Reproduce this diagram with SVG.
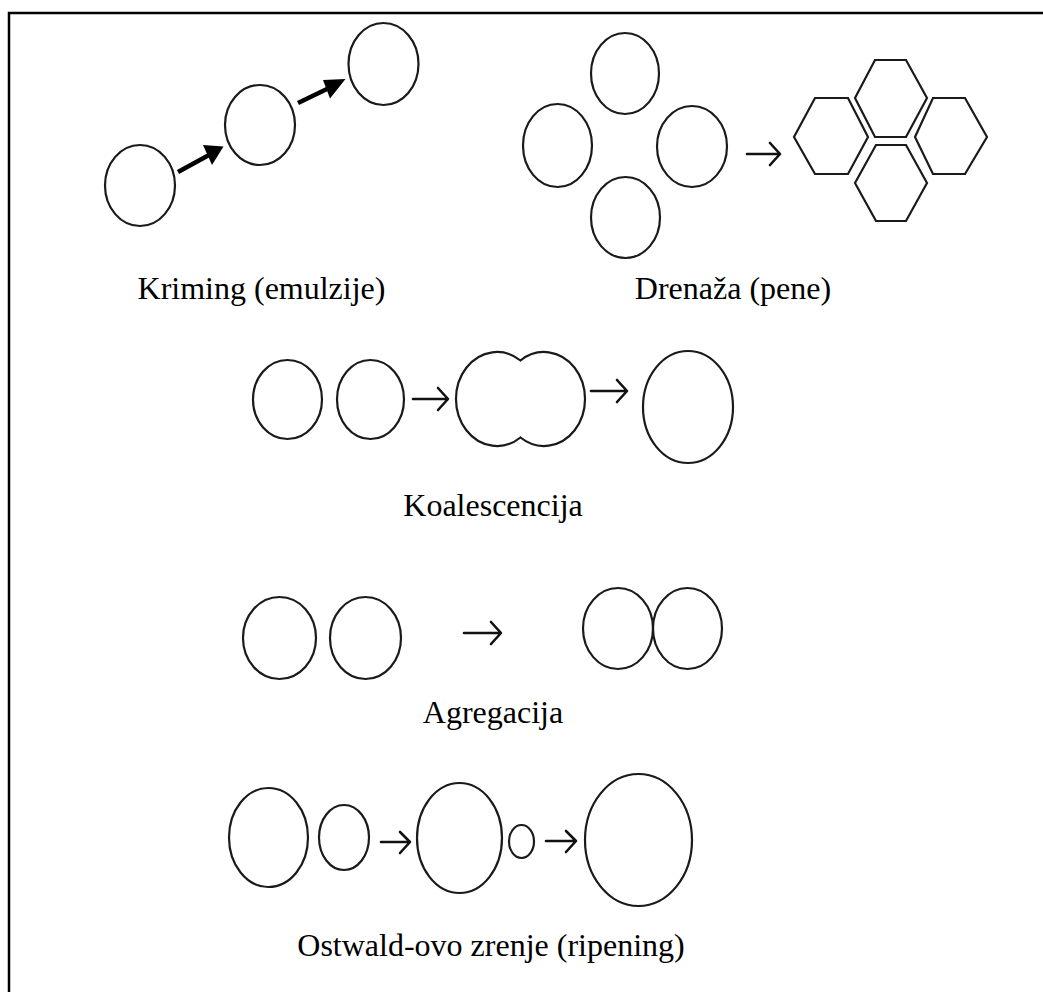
<svg xmlns="http://www.w3.org/2000/svg" width="1043" height="992" viewBox="0 0 1043 992">
<style>
.s{fill:none;stroke:#1a1a1a;stroke-width:2.2}
.a{fill:none;stroke:#111;stroke-width:2.6;stroke-linecap:round;stroke-linejoin:round}
.t{font-family:"Liberation Serif","Times New Roman",serif;font-size:32px;fill:#000;text-anchor:middle}
</style>
<rect width="1043" height="992" fill="#fff"/>
<path d="M9,992 V13 H1043" fill="none" stroke="#000" stroke-width="2.5"/>
<g id="kriming">
<ellipse class="s" cx="140" cy="185.5" rx="35" ry="40.5"/>
<ellipse class="s" cx="260" cy="125" rx="35" ry="40"/>
<ellipse class="s" cx="383.5" cy="64" rx="35" ry="41"/>
<text class="t" x="261.5" y="299">Kriming (emulzije)</text>
</g>
<g id="drenaza">
<ellipse class="s" cx="625" cy="73.5" rx="34" ry="40.5"/>
<ellipse class="s" cx="557.5" cy="145.5" rx="34.5" ry="41.5"/>
<ellipse class="s" cx="692" cy="146.5" rx="35" ry="40.5"/>
<ellipse class="s" cx="625.5" cy="217.5" rx="34.5" ry="40.5"/>
<polygon class="s" points="815,98 848,98 868,137 848,174 815,174 794,137"/>
<polygon class="s" points="875,60 906,60 927,98 906,137 875,137 855,98"/>
<polygon class="s" points="933,98 965,98 987,137 965,174 933,174 915,137"/>
<polygon class="s" points="876,145 906,145 927,183 906,221 876,221 855,183"/>
<text class="t" x="733" y="299">Drenaža (pene)</text>
</g>
<g id="koalescencija">
<ellipse class="s" cx="287.5" cy="399.5" rx="34.5" ry="39.5"/>
<ellipse class="s" cx="370.5" cy="399.5" rx="33.5" ry="39.5"/>
<path class="s" d="M520.5,360.5 A41,47 0 1,0 520.5,437.5 A41,47 0 1,0 520.5,360.5 Z"/>
<ellipse class="s" cx="688" cy="407" rx="45" ry="56"/>
<text class="t" x="493" y="516">Koalescencija</text>
</g>
<g id="agregacija">
<ellipse class="s" cx="279.5" cy="638" rx="36.5" ry="41"/>
<ellipse class="s" cx="365.5" cy="638" rx="35.5" ry="41"/>
<ellipse class="s" cx="618" cy="628.5" rx="35" ry="40.5"/>
<ellipse class="s" cx="687.5" cy="628.5" rx="34.5" ry="40.5"/>
<text class="t" x="493" y="723">Agregacija</text>
</g>
<g id="ostwald">
<ellipse class="s" cx="268.5" cy="837.5" rx="39.5" ry="49.5"/>
<ellipse class="s" cx="344" cy="837.5" rx="25" ry="32.5"/>
<ellipse class="s" cx="459.5" cy="838" rx="42.5" ry="55"/>
<ellipse class="s" cx="521.5" cy="841.5" rx="12.5" ry="16.5"/>
<ellipse class="s" cx="638.5" cy="840" rx="53.5" ry="66"/>
<text class="t" x="491" y="956">Ostwald-ovo zrenje (ripening)</text>
</g>
<g id="connectors">
<line x1="178" y1="172" x2="209" y2="155" stroke="#000" stroke-width="4.5"/>
<polygon points="203,145 223.5,146.5 212,165" fill="#000"/>
<line x1="298" y1="103" x2="328" y2="88.5" stroke="#000" stroke-width="4.5"/>
<polygon points="323,80 345.5,79 330,98.5" fill="#000"/>
<path class="a" d="M747,154 H779 M770,143 L780,154 L770,165"/>
<path class="a" d="M413,399 H447 M438,388 L448,399 L438,410"/>
<path class="a" d="M591,391 H626 M617,380 L627,391 L617,402"/>
<path class="a" d="M464,633 H500 M491,622 L501,633 L491,644"/>
<path class="a" d="M381,842 H409 M400,832 L410,842 L400,853"/>
<path class="a" d="M546,841 H575 M566,831 L576,841 L566,852"/>
</g>
</svg>
